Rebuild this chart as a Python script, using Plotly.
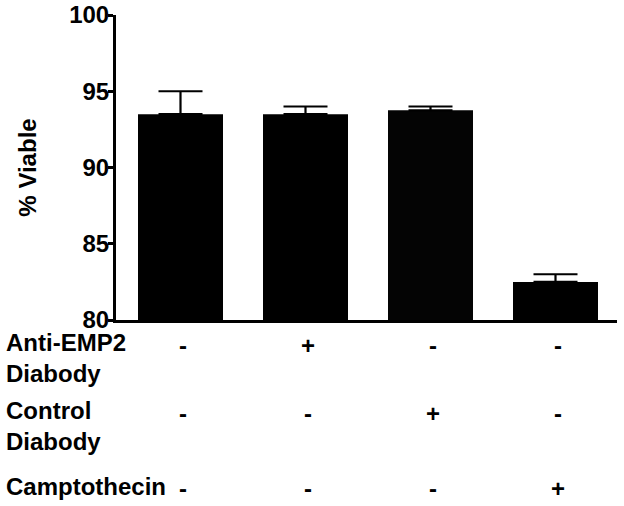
import plotly.graph_objects as go

# ---- data ----
groups = [0, 1, 2, 3]
viable_mean = [93.5, 93.5, 93.75, 82.5]
viable_err_plus = [1.5, 0.5, 0.25, 0.5]
row_labels = ["Anti-EMP2<br>Diabody", "Control<br>Diabody", "Camptothecin"]
row_signs = [
    ["-", "+", "-", "-"],
    ["-", "-", "+", "-"],
    ["-", "-", "-", "+"],
]
y_ticks = [80, 85, 90, 95, 100]

FONT = "Liberation Sans, Arial, Helvetica, sans-serif"
W, H = 624, 506
AX_L, AX_R, AX_T, AX_B = 116, 617, 15, 320  # pixel positions of plot area
L, R, T, B = AX_L, W - AX_R, AX_T, H - AX_B
plot_h = AX_B - AX_T
plot_w = AX_R - AX_L

def ypaper(px):
    return (AX_B - px) / plot_h

def xpaper(px):
    return (px - AX_L) / plot_w

fig = go.Figure()
fig.add_trace(go.Bar(
    x=groups, y=viable_mean, width=0.68,
    marker=dict(color=["#000000", "#000000", "#040404", "#000000"], line=dict(width=0)),
    error_y=dict(type="data", symmetric=False, array=viable_err_plus,
                 arrayminus=[0, 0, 0, 0], color="black", thickness=2.2, width=22),
    showlegend=False,
))

annotations = []
row_y_px = [345, 413, 488]
label_y_px = [358, 426, 487]
for r, (lab, signs) in enumerate(zip(row_labels, row_signs)):
    annotations.append(dict(
        x=xpaper(4), y=ypaper(label_y_px[r]), xref="paper", yref="paper",
        text=f"<b>{lab}</b>", showarrow=False, xanchor="left", yanchor="middle",
        align="left", font=dict(family=FONT, size=24, color="black"),
    ))
    for g, s in zip(groups, signs):
        annotations.append(dict(
            x=g, y=ypaper(row_y_px[r]), xref="x", yref="paper", xshift=2,
            text=f"<b>{s}</b>", showarrow=False, xanchor="center", yanchor="middle",
            font=dict(family=FONT, size=24, color="black"),
        ))

fig.update_layout(
    width=W, height=H,
    margin=dict(l=L, r=R, t=T, b=B, pad=0, autoexpand=False),
    paper_bgcolor="white", plot_bgcolor="white",
    font=dict(family=FONT, size=24, color="black"),
    annotations=annotations,
)
fig.update_xaxes(
    range=[-0.516, 3.492], showticklabels=False, ticks="", showgrid=False,
    zeroline=False, showline=True, linecolor="black", linewidth=3,
)
fig.update_yaxes(
    range=[80, 100], tickvals=y_ticks, ticktext=[f"<b>{v}</b>" for v in y_ticks],
    ticks="outside", ticklen=5, tickwidth=3, tickcolor="black",
    ticklabelstandoff=-6, ticklabeloverflow="allow",
    tickfont=dict(family=FONT, size=24, color="black"),
    showgrid=False, zeroline=False, showline=True, linecolor="black", linewidth=3,
    title=dict(text="<b>% Viable</b>", font=dict(family=FONT, size=24, color="black"), standoff=26),
)

fig.write_html("out.html", config={"displayModeBar": False},
               post_script="document.body.style.margin='0';")
